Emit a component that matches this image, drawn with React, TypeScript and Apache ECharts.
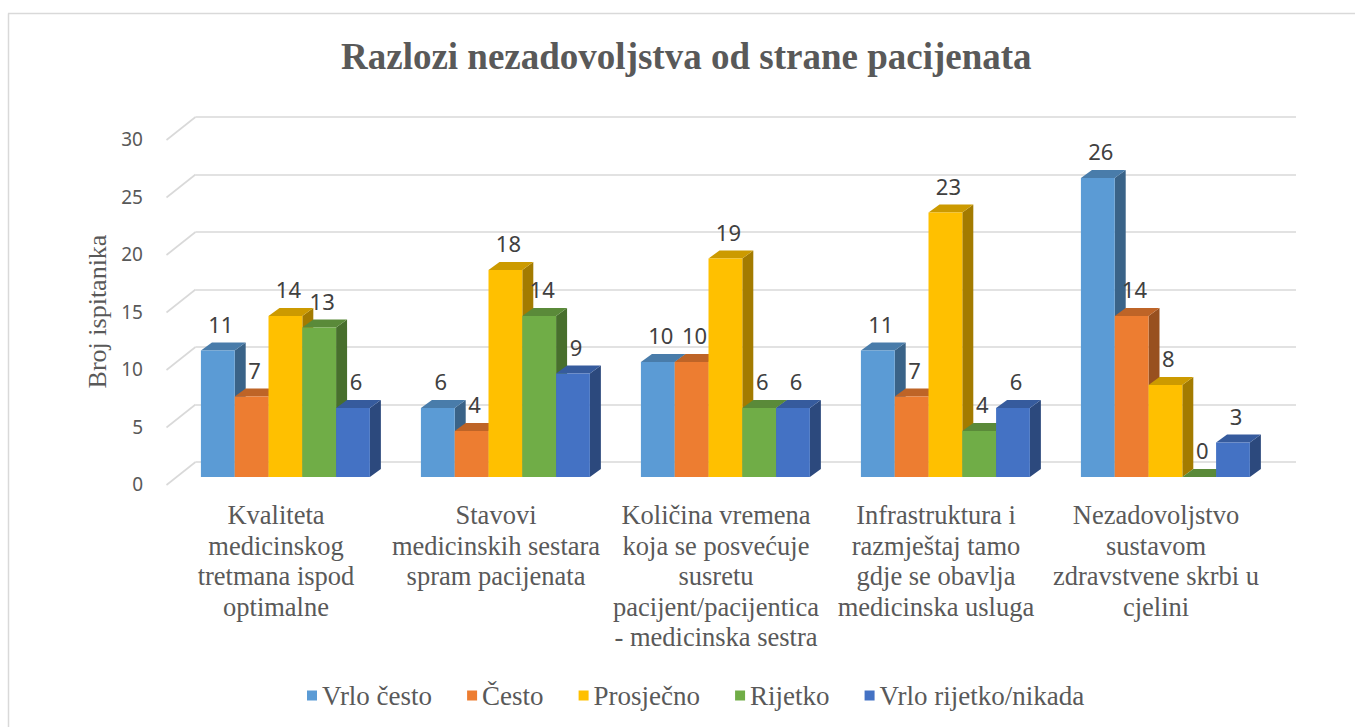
import React, { useEffect, useRef } from "react";
import * as echarts from "echarts";

const categories = [
  "Kvaliteta\nmedicinskog\ntretmana ispod\noptimalne",
  "Stavovi\nmedicinskih sestara\nspram pacijenata",
  "Količina vremena\nkoja se posvećuje\nsusretu\npacijent/pacijentica\n- medicinska sestra",
  "Infrastruktura i\nrazmještaj tamo\ngdje se obavlja\nmedicinska usluga",
  "Nezadovoljstvo\nsustavom\nzdravstvene skrbi u\ncjelini",
];
const seriesNames = ["Vrlo često", "Često", "Prosječno", "Rijetko", "Vrlo rijetko/nikada"];
const vrloCesto = [11, 6, 10, 11, 26];
const cesto = [7, 4, 10, 7, 14];
const prosjecno = [14, 18, 19, 23, 8];
const rijetko = [13, 14, 6, 4, 0];
const vrloRijetko = [6, 9, 6, 6, 3];
const seriesValues = [vrloCesto, cesto, prosjecno, rijetko, vrloRijetko];
const colors = ["#5B9BD5", "#ED7D31", "#FFC000", "#70AD47", "#4472C4"];
const yTicks = [0, 5, 10, 15, 20, 25, 30];

const TEXT = "#595959";
const SERIF = "Liberation Serif";
const SANS = "Noto Sans";
const DX = 11;
const DY = 8;
const BAR_FRAC = 0.1536;

function darken(hex: string, f: number): string {
  const n = parseInt(hex.slice(1), 16);
  const r = Math.round(((n >> 16) & 255) * f);
  const g = Math.round(((n >> 8) & 255) * f);
  const b = Math.round((n & 255) * f);
  return `rgb(${r},${g},${b})`;
}

export default function App() {
  const ref = useRef<HTMLDivElement>(null);
  useEffect(() => {
    if (!ref.current) return;
    const chart = echarts.init(ref.current, null, { renderer: "svg" });

    const barSeries = seriesValues.map((vals, sIdx) => ({
      type: "custom",
      name: seriesNames[sIdx],
      xAxisIndex: 0,
      yAxisIndex: 0,
      z: 10 + sIdx,
      itemStyle: { color: colors[sIdx] },
      data: vals.map((v, i) => [i, v]),
      renderItem: (params: any, api: any) => {
        const ci = api.value(0);
        const v = api.value(1);
        const base = api.coord([ci, 0]);
        const top = api.coord([ci, v]);
        const band = api.size([1, 0])[0];
        const w = band * BAR_FRAC;
        const x0 = base[0] + (sIdx - 2.5) * w;
        const x1 = x0 + w;
        const yb = base[1];
        const yt = top[1];
        const c = colors[sIdx];
        const topC = darken(c, 0.8);
        const sideC = darken(c, 0.64);
        return {
          type: "group",
          children: [
            {
              type: "polygon",
              shape: { points: [[x1, yt], [x1 + DX, yt - DY], [x1 + DX, yb - DY], [x1, yb]] },
              style: { fill: sideC },
            },
            {
              type: "polygon",
              shape: { points: [[x0, yt], [x0 + DX, yt - DY], [x1 + DX, yt - DY], [x1, yt]] },
              style: { fill: topC },
            },
            {
              type: "rect",
              shape: { x: x0, y: yt, width: w, height: yb - yt },
              style: { fill: c },
            },
            {
              type: "text",
              x: (x0 + x1) / 2 + 3,
              y: yt - 27,
              z2: 50,
              style: {
                text: String(v),
                fill: "#404040",
                fontFamily: SANS,
                fontSize: 22,
                align: "center",
                verticalAlign: "middle",
              },
            },
          ],
        };
      },
    }));

    const option: any = {
      animation: false,
      backgroundColor: "#ffffff",
      color: colors,
      textStyle: { fontFamily: SERIF },
      title: {
        text: "Razlozi nezadovoljstva od strane pacijenata",
        left: 336,
        top: 30,
        textStyle: {
          fontFamily: SERIF,
          fontWeight: "bold",
          fontSize: 37,
          color: TEXT,
          lineHeight: 42,
        },
      },
      legend: {
        data: seriesNames,
        top: 677,
        left: 302,
        icon: "rect",
        itemWidth: 10,
        itemHeight: 10,
        itemGap: 35,
        textStyle: { fontFamily: SERIF, fontSize: 27, color: TEXT },
      },
      grid: [
        { left: 175.4, right: 79.6, top: 132, bottom: 250 },
        { left: 195.5, right: 59, top: 117, bottom: 265 },
        { left: 166, right: 89, top: 139, bottom: 243 },
      ],
      xAxis: [
        { gridIndex: 0, type: "category", data: categories, show: false },
        { gridIndex: 1, type: "value", min: 0, max: 1, show: false },
        {
          gridIndex: 2,
          type: "category",
          data: categories,
          axisLine: { show: false },
          axisTick: { show: false },
          axisLabel: {
            interval: 0,
            margin: 16,
            fontFamily: SERIF,
            fontSize: 26.5,
            lineHeight: 30.5,
            color: TEXT,
          },
        },
      ],
      yAxis: [
        { gridIndex: 0, type: "value", min: 0, max: 30, interval: 5, show: false },
        {
          gridIndex: 1,
          type: "value",
          min: 0,
          max: 30,
          interval: 5,
          axisLine: { show: false },
          axisTick: { show: false },
          axisLabel: { show: false },
          splitLine: { show: true, lineStyle: { color: "#d9d9d9", width: 1.6 } },
        },
        {
          gridIndex: 2,
          type: "value",
          min: 0,
          max: 30,
          interval: 5,
          name: "Broj ispitanika",
          nameLocation: "middle",
          nameRotate: 90,
          nameGap: 52,
          nameTextStyle: { fontFamily: SERIF, fontSize: 26, color: TEXT },
          axisLine: { show: false },
          axisTick: { show: false },
          splitLine: { show: false },
          axisLabel: { margin: 23, fontFamily: SANS, fontSize: 19, color: TEXT },
        },
      ],
      graphic: [
        { type: "line", shape: { x1: 8.5, y1: 13.5, x2: 8.5, y2: 727 }, style: { stroke: "#d9d9d9", lineWidth: 1.5 } },
        { type: "line", shape: { x1: 8, y1: 13.5, x2: 1355, y2: 13.5 }, style: { stroke: "#d9d9d9", lineWidth: 1.5 } },
      ],
      series: [
        {
          type: "custom",
          xAxisIndex: 1,
          yAxisIndex: 1,
          silent: true,
          z: 1,
          data: yTicks.map((t) => [0, t]),
          renderItem: (params: any, api: any) => {
            const p = api.coord([0, api.value(1)]);
            return {
              type: "line",
              shape: { x1: p[0], y1: p[1], x2: p[0] - 29, y2: p[1] + 23 },
              style: { stroke: "#d9d9d9", lineWidth: 1.6 },
            };
          },
        },
        ...barSeries,
      ],
    };
    chart.setOption(option);
    return () => chart.dispose();
  }, []);
  return (
    <div
      ref={ref}
      style={{ position: "absolute", left: 0, top: 0, width: 1355, height: 727 }}
    />
  );
}
